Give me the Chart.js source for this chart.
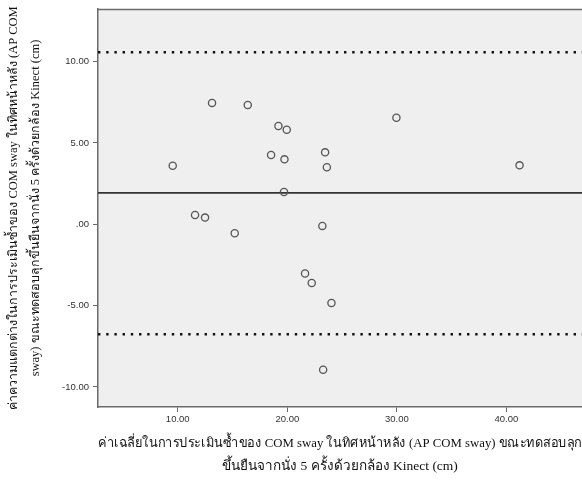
<!DOCTYPE html>
<html>
<head>
<meta charset="utf-8">
<script src="https://cdn.jsdelivr.net/npm/chart.js@4"></script>
<style>
  html, body { margin: 0; padding: 0; background: #fff; }
  #wrap { width: 582px; height: 481px; }
</style>
</head>
<body>
<div id="wrap"><canvas id="baChart"></canvas></div>
<script>
// mean of the two measurements (x) and their difference (y)
var meanValues = [13.13, 16.39, 19.19, 19.95, 29.96, 18.52, 19.74, 23.45, 23.61, 9.54,
                  41.2, 19.7, 11.58, 12.49, 15.2, 23.2, 21.62, 22.23, 24.03, 23.27];
var diffValues = [7.46, 7.33, 6.04, 5.81, 6.55, 4.26, 3.99, 4.42, 3.50, 3.60,
                  3.62, 1.98, 0.57, 0.41, -0.55, -0.10, -3.03, -3.61, -4.84, -8.94];

// bias and limits of agreement
var meanDiff = 1.93;
var upperLimit = 10.57;
var lowerLimit = -6.76;

var xRange = [2.72, 46.9];
var yRange = [-11.23, 13.23];

var xTitle = ['ค่าเฉลี่ยในการประเมินซ้ำของ COM sway ในทิศหน้าหลัง (AP COM sway) ขณะทดสอบลุก',
              'ขึ้นยืนจากนั่ง 5 ครั้งด้วยกล้อง Kinect (cm)'];
var yTitle = ['ค่าความแตกต่างในการประเมินซ้ำของ COM sway ในทิศหน้าหลัง (AP COM',
              'sway) ขณะทดสอบลุกขึ้นยืนจากนั่ง 5 ครั้งด้วยกล้อง Kinect (cm)'];

const points = meanValues.map((m, i) => ({ x: m, y: diffValues[i] }));
const hLine = (v) => [{ x: xRange[0], y: v }, { x: xRange[1], y: v }];

// SPSS style tick labels: ".00", "5.00", "-5.00"
const spssLabel = (v) => {
    var s = Math.abs(v).toFixed(2);
    if (s.startsWith('0')) s = s.slice(1);
    return (v < 0 ? '-' : '') + s;
};

// grey plot background and top border
const plotBox = {
    id: 'plotBox',
    beforeDraw(chart) {
        const { ctx, chartArea: a } = chart;
        ctx.save();
        ctx.fillStyle = '#efefef';
        ctx.fillRect(a.left, a.top, a.right - a.left, a.bottom - a.top);
        ctx.strokeStyle = '#6a6a6a';
        ctx.lineWidth = 1.5;
        ctx.beginPath();
        ctx.moveTo(a.left, a.top + 0.5);
        ctx.lineTo(a.right, a.top + 0.5);
        ctx.stroke();
        ctx.restore();
    }
};

var tickFont = { family: '"Liberation Sans", Arial, sans-serif', size: 9.5 };
var serif = '"Liberation Serif", "Times New Roman", serif';

var baChart = new Chart('baChart', {
    type: 'scatter',
    data: {
        datasets: [
            {
                data: points,
                showLine: false,
                pointStyle: 'circle',
                pointRadius: 3.6,
                pointBorderWidth: 1.3,
                pointBorderColor: '#555',
                pointBackgroundColor: 'rgba(0,0,0,0)',
                order: 0
            },
            {
                data: hLine(meanDiff),
                showLine: true,
                borderColor: '#333',
                borderWidth: 1.6,
                pointRadius: 0,
                order: 1
            },
            {
                data: hLine(upperLimit),
                showLine: true,
                borderColor: '#111',
                borderWidth: 2.4,
                borderDash: [2.4, 5.8],
                pointRadius: 0,
                order: 1
            },
            {
                data: hLine(lowerLimit),
                showLine: true,
                borderColor: '#111',
                borderWidth: 2.4,
                borderDash: [2.4, 5.8],
                pointRadius: 0,
                order: 1
            }
        ]
    },
    options: {
        responsive: true,
        maintainAspectRatio: false,
        animation: false,
        layout: { autoPadding: false, padding: { top: 9, right: 0, left: 0, bottom: 0 } },
        plugins: {
            legend: { display: false },
            tooltip: { enabled: false }
        },
        scales: {
            x: {
                type: 'linear',
                min: xRange[0],
                max: xRange[1],
                afterFit: (s) => { s.height = 74; s.paddingLeft = 0; s.paddingRight = 0; },
                afterBuildTicks: (s) => { s.ticks = s.ticks.filter(t => t.value % 10 === 0); },
                ticks: {
                    stepSize: 10,
                    includeBounds: false,
                    maxRotation: 0,
                    padding: 2,
                    color: '#333',
                    font: tickFont,
                    callback: (v) => spssLabel(v)
                },
                grid: { drawOnChartArea: false, drawTicks: true, tickLength: 5, color: '#6a6a6a' },
                border: { display: true, color: '#6a6a6a', width: 1.5 },
                title: {
                    display: true,
                    text: xTitle,
                    color: '#111',
                    font: { family: serif, size: 13.5, lineHeight: 1.7 },
                    padding: { top: 0, bottom: 3.5 }
                }
            },
            y: {
                type: 'linear',
                min: yRange[0],
                max: yRange[1],
                afterFit: (s) => { s.width = 98; s.paddingTop = 0; s.paddingBottom = 0; },
                afterBuildTicks: (s) => { s.ticks = s.ticks.filter(t => t.value % 5 === 0); },
                ticks: {
                    stepSize: 5,
                    includeBounds: false,
                    padding: 4,
                    color: '#333',
                    font: tickFont,
                    callback: (v) => spssLabel(v)
                },
                grid: { drawOnChartArea: false, drawTicks: true, tickLength: 5, color: '#6a6a6a' },
                border: { display: true, color: '#6a6a6a', width: 1.5 },
                title: {
                    display: true,
                    text: yTitle,
                    color: '#111',
                    font: { family: serif, size: 12.5, lineHeight: 1.8 },
                    padding: { top: 2, bottom: 0 }
                }
            }
        }
    },
    plugins: [plotBox]
});
</script>
</body>
</html>
